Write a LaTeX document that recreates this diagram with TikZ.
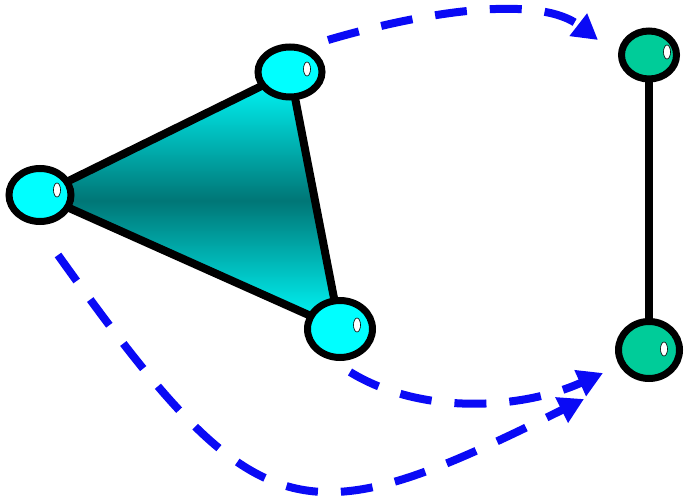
\documentclass[tikz,border=0pt]{standalone}
\usetikzlibrary{shapes.geometric,arrows.meta,backgrounds}
\definecolor{cyanfill}{RGB}{0,255,255}
\definecolor{greenfill}{RGB}{0,204,153}
\definecolor{tealmid}{RGB}{0,118,118}
\definecolor{arrowblue}{RGB}{10,10,245}
\begin{document}
\begin{tikzpicture}[x=1pt,y=-1pt,
  vert/.style={ellipse,draw=black,line width=7pt,inner sep=0pt},
  cyanv/.style={vert,fill=cyanfill},
  greenv/.style={vert,fill=greenfill},
  shine/.style={ellipse,draw=black,line width=0.6pt,fill=white,minimum width=7pt,minimum height=14pt,inner sep=0pt},
  edgeline/.style={draw=black,line width=8pt},
  flow/.style={draw=arrowblue,line width=8pt,dash pattern=on 32pt off 23pt,
    -{Triangle[length=25pt,width=27pt]}}
]
\useasboundingbox (0,0) rectangle (687,497);
% vertices
\node[cyanv,minimum width=64pt,minimum height=50pt] (A) at (290,72) {};
\node[cyanv,minimum width=62pt,minimum height=53pt] (B) at (40,195) {};
\node[cyanv,minimum width=65pt,minimum height=57pt] (C) at (340,329) {};
\node[greenv,minimum width=55pt,minimum height=48pt] (D) at (649,55) {};
\node[greenv,minimum width=61pt,minimum height=57pt] (E) at (649,350) {};
% highlights
\node[shine] (hA) at (307,69) {};
\node[shine] (hB) at (57,190) {};
\node[shine] (hC) at (357,325) {};
\node[shine] (hD) at (667,52) {};
\node[shine] (hE) at (664,349) {};
% edges behind vertices
\begin{pgfonlayer}{background}
\shade[top color=cyanfill,bottom color=cyanfill,middle color=tealmid]
  (A.center) -- (B.center) -- (C.center) -- cycle;
\draw[edgeline,line join=round] (A.center) -- (B.center) -- (C.center) -- cycle;
\draw[edgeline] (D.center) -- (E.center);
\end{pgfonlayer}
% dashed arrows
\coordinate (s1) at (328,40);
\coordinate (t1) at (598,40);
\coordinate (s2) at (350,372);
\coordinate (t2) at (603,373);
\coordinate (s3) at (58,255);
\coordinate (t3) at (584,399);
\draw[flow] (s1) .. controls (430,10) and (540,-5) .. (t1);
\draw[flow] (s2) .. controls (420,415) and (520,410) .. (t2);
\draw[flow] (s3) .. controls (258,535) and (300,540) .. (t3);
\end{tikzpicture}
\end{document}
